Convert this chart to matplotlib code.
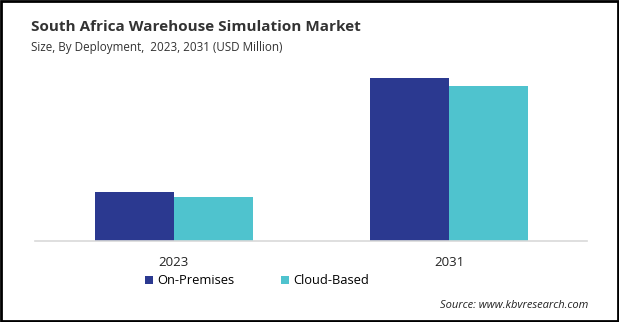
import numpy as np
import matplotlib.pyplot as plt
from matplotlib.patches import Rectangle

years = ["2023", "2031"]
on_premises = [9.8, 32.6]
cloud_based = [8.8, 31.0]
series_names = ["On-Premises", "Cloud-Based"]

navy = "#2B3990"
teal = "#4FC3CE"

fig = plt.figure(figsize=(6.19, 3.22), dpi=100)
ax = fig.add_axes([35 / 619, 1 - 241 / 322, 552 / 619, 181 / 322])

x = np.arange(len(years))
w = 0.287
b1 = ax.bar(x - w / 2, on_premises, width=w, color=navy, label=series_names[0])
b2 = ax.bar(x + w / 2, cloud_based, width=w, color=teal, label=series_names[1])

ax.set_xlim(-0.503, 1.5)
ax.set_ylim(0, 36.2)
ax.set_yticks([])
ax.set_xticks(x)
ax.set_xticklabels(years, fontsize=9.5, color="#222222", family="Open Sans")
ax.tick_params(axis="x", length=0, pad=11)
for s in ["top", "right", "left"]:
    ax.spines[s].set_visible(False)
ax.spines["bottom"].set_color("#d9d9d9")
ax.spines["bottom"].set_linewidth(1.2)

leg = fig.legend(handles=[b1, b2], labels=series_names, loc="center",
                 bbox_to_anchor=(257 / 619, 1 - 281 / 322), ncol=2, frameon=False,
                 prop={"family": "Open Sans", "size": 9.3}, handlelength=0.65,
                 handleheight=0.65, handletextpad=0.3, columnspacing=3.6)

fig.text(31 / 619, 1 - 27 / 322, "South Africa Warehouse Simulation Market",
         fontsize=11.0, fontweight="bold", color="#333333", family="Open Sans",
         va="center", ha="left")
fig.text(31 / 619, 1 - 47 / 322, "Size, By Deployment,  2023, 2031 (USD Million)",
         fontsize=8.4, color="#333333", family="Open Sans", va="center", ha="left")
fig.text(588 / 619, 1 - 306 / 322, "Source: www.kbvresearch.com",
         fontsize=8.0, style="italic", color="#222222", family="Open Sans",
         va="center", ha="right")

# thin dark frame round the whole figure
fig.patches.append(Rectangle((0.0015, 0.002), 0.997, 0.996, transform=fig.transFigure,
                             fill=False, edgecolor="black", linewidth=2))

fig.savefig("out.png", dpi=100)
